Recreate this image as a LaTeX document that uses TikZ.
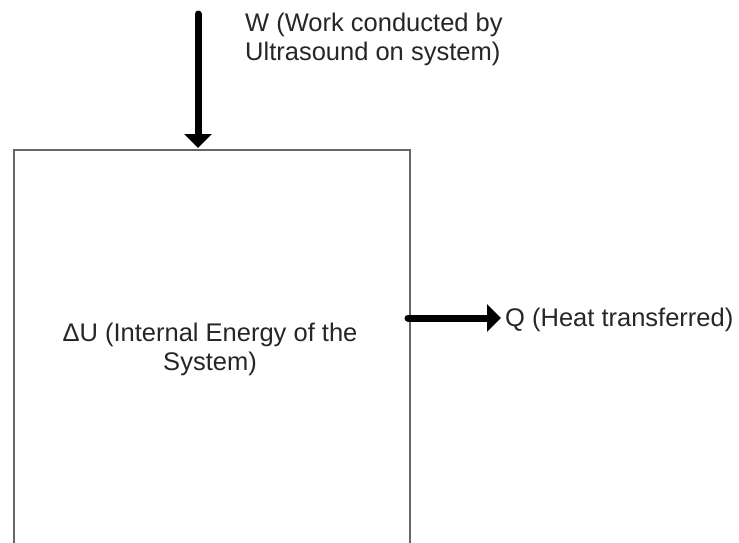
\documentclass[tikz,border=0pt]{standalone}
\usepackage{fontspec}
\setmainfont{Liberation Sans}
\usetikzlibrary{arrows.meta}
\begin{document}
\begin{tikzpicture}[x=1pt,y=-1pt,
  lbl/.style={text=black!85, font=\fontsize{25.5}{29}\selectfont, inner sep=0pt},
  flow/.style={line width=7pt, line cap=round, black,
    -{Triangle[width=27pt,length=14pt]}},
  sysbox/.style={draw=black!60, line width=2pt, fill=white}]
\useasboundingbox (0,0) rectangle (739,542);
\clip (0,0) rectangle (739,542);
% the system: a box running past the lower edge
\node[sysbox, anchor=north west, minimum width=396pt, minimum height=450pt,
      inner sep=0pt] (sys) at (13,149) {};
\node[lbl, align=center] (du) at (210,349)
  {ΔU (Internal Energy of the\\System)};
% work done on the system
\coordinate (wtop) at (198,14);
\coordinate (wend) at (198,148);
\draw[flow] (wtop) -- (wend);
\node[lbl, align=left, anchor=west] (wlbl) at (245,39)
  {W (Work conducted by\\Ultrasound on system)};
% heat leaving the system
\coordinate (qstart) at (408,318);
\coordinate (qend) at (501,318);
\draw[flow] (qstart) -- (qend);
\node[lbl, anchor=west] (qlbl) at (505,320) {Q (Heat transferred)};
\end{tikzpicture}
\end{document}
